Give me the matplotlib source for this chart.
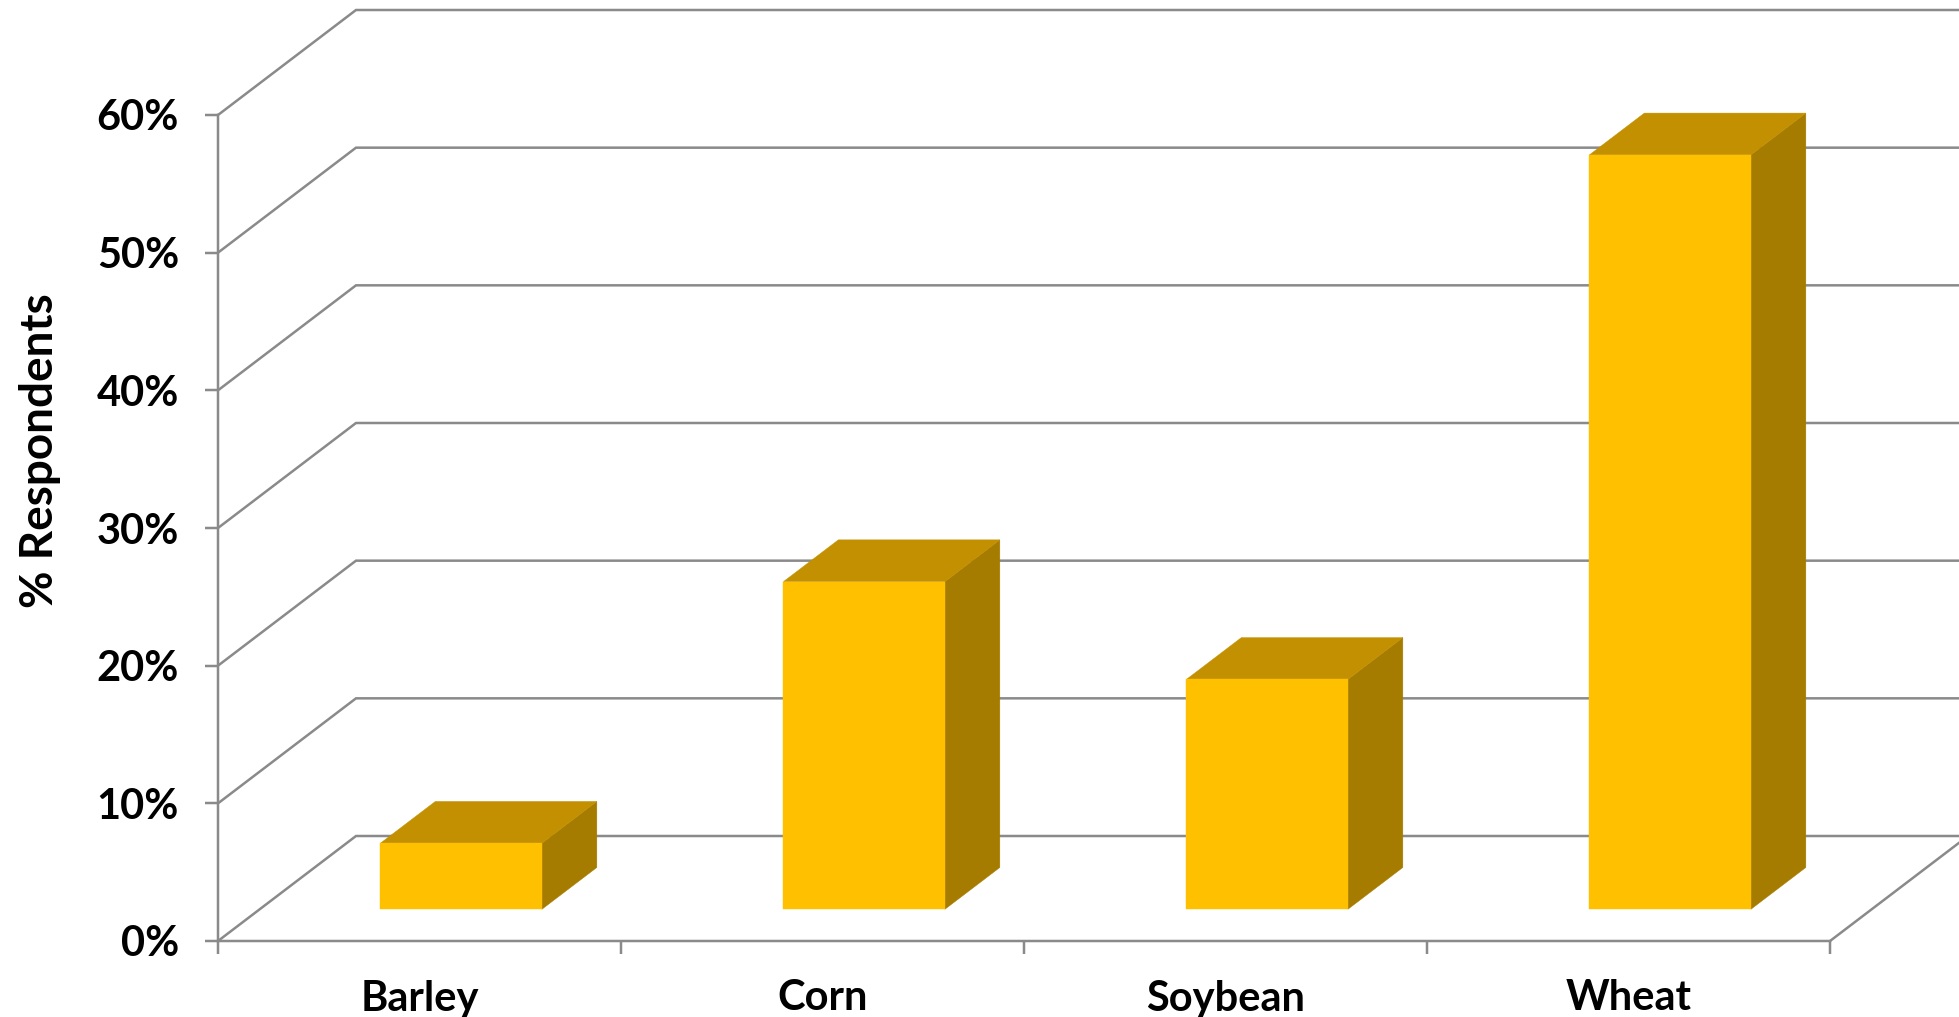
import matplotlib
matplotlib.use("Agg")
import matplotlib.pyplot as plt

categories = ["Barley", "Corn", "Soybean", "Wheat"]
values = [4.8, 23.8, 16.7, 54.8]
y_ticks = [0, 10, 20, 30, 40, 50, 60]
y_tick_labels = ["0%", "10%", "20%", "30%", "40%", "50%", "60%"]
y_title = "% Respondents"

W, H = 1959, 1017
FRONT, TOP, SIDE = "#FFC000", "#C29000", "#A67C00"
GREY = "#8A8A8A"
px = 72 / 100

plt.rcParams["font.family"] = ["Lato", "DejaVu Sans"]
plt.rcParams["font.weight"] = "bold"

fig = plt.figure(figsize=(W / 100, H / 100), dpi=100, facecolor="white")
ax = fig.add_axes([218 / W, 1 - 941 / H, (1830 - 218) / W, (941 - 115) / H])
ax.set_xlim(0, len(categories))
ax.set_ylim(0, 60)
ax.patch.set_visible(False)

# depth of the oblique projection, in data units
DEPTH_X = 138 / ((1830 - 218) / len(categories))
DEPTH_Y = 105 / ((941 - 115) / 60)


def proj(x, y, d):
    return x + d * DEPTH_X, y + d * DEPTH_Y


LW = 2.5 * px
for tick in y_ticks:
    x0, y0 = proj(0, tick, 0)
    x1, y1 = proj(0, tick, 1)
    x2, y2 = proj(len(categories), tick, 1)
    ax.plot([x0, x1, x2], [y0, y1, y2], color=GREY, lw=LW, clip_on=False, zorder=1,
            solid_joinstyle="miter")
# right edge of the floor
x0, y0 = proj(len(categories), 0, 0)
x1, y1 = proj(len(categories), 0, 1)
ax.plot([x0, x1], [y0, y1], color=GREY, lw=LW, clip_on=False, zorder=1)

BAR_W = 161.5 / ((1830 - 218) / len(categories))
D_FRONT, D_BACK = 0.302, 0.70


def face(points, color):
    xs, ys = zip(*[proj(*p) for p in points])
    ax.fill(xs, ys, facecolor=color, edgecolor=color, lw=0.3, clip_on=False, zorder=3)


for i, v in enumerate(values):
    l = i + 0.5 - BAR_W / 2
    r = i + 0.5 + BAR_W / 2
    face([(r, 0, D_FRONT), (r, 0, D_BACK), (r, v, D_BACK), (r, v, D_FRONT)], SIDE)
    face([(l, v, D_FRONT), (r, v, D_FRONT), (r, v, D_BACK), (l, v, D_BACK)], TOP)
    face([(l, 0, D_FRONT), (r, 0, D_FRONT), (r, v, D_FRONT), (l, v, D_FRONT)], FRONT)

for name in ("top", "right"):
    ax.spines[name].set_visible(False)
for name in ("left", "bottom"):
    ax.spines[name].set_color(GREY)
    ax.spines[name].set_linewidth(LW)

ax.set_yticks(y_ticks, y_tick_labels)
ax.tick_params(axis="y", length=13 * px, width=LW, color=GREY, pad=26 * px,
               labelsize=30, labelcolor="black")
ax.set_xticks(range(len(categories) + 1), [""] * (len(categories) + 1))
ax.tick_params(axis="x", which="major", length=13 * px, width=LW, color=GREY)
ax.set_xticks([i + 0.5 for i in range(len(categories))], categories, minor=True)
ax.tick_params(axis="x", which="minor", length=0, pad=38.5 * px, labelsize=30,
               labelcolor="black")

fig.text(40 / W, 1 - 451 / H, y_title, rotation=90, ha="center", va="center",
         fontsize=33, color="black", fontweight="bold")

fig.savefig("out.png", dpi=100, facecolor="white")
